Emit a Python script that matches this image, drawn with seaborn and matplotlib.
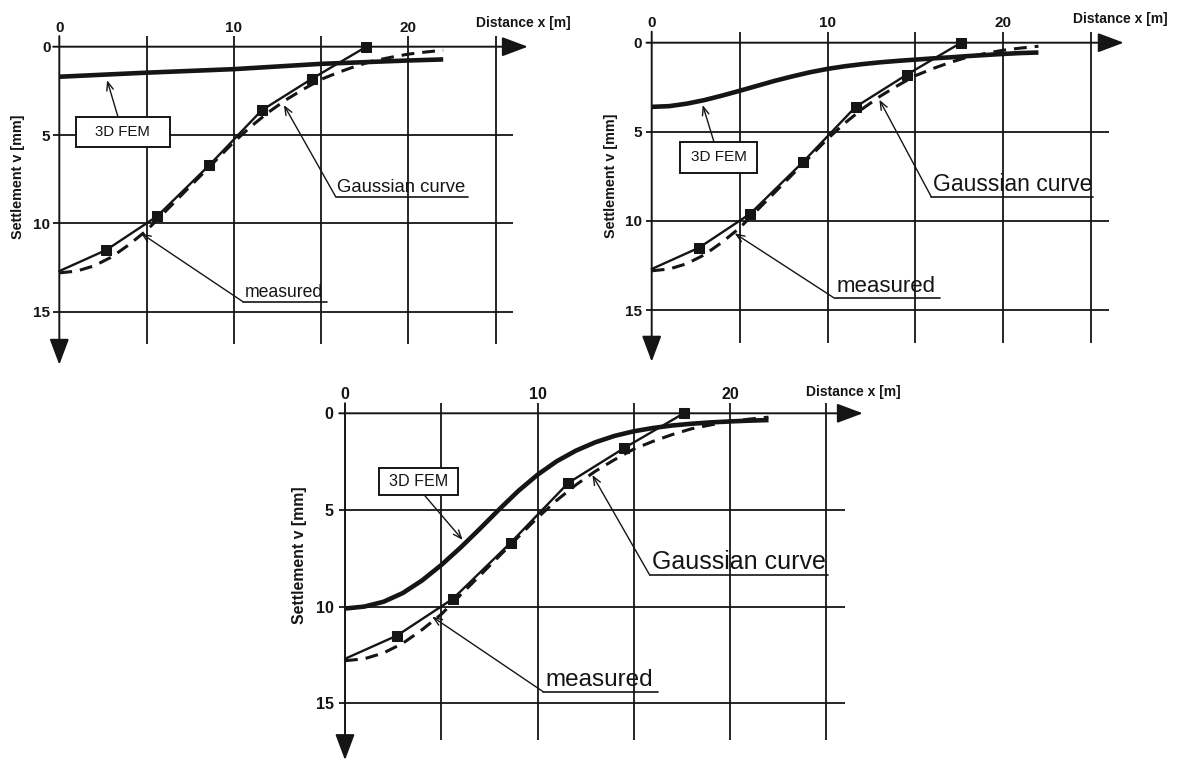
import matplotlib
matplotlib.use("Agg")
import matplotlib.pyplot as plt
from matplotlib.patches import Rectangle
import seaborn as sns

# ---- data -------------------------------------------------------------
# measured settlement trough (same survey in every panel)
measured_x = [0.0, 2.7, 5.6, 8.6, 11.6, 14.5, 17.6]
measured_v = [12.7, 11.5, 9.6, 6.7, 3.6, 1.8, 0.0]

# fitted Gaussian settlement trough
gauss_x = [0, 1, 2, 3, 4, 5, 6, 7, 8, 9, 10, 11, 12, 13, 14, 15, 16, 17, 18, 19, 20, 21, 22]
gauss_v = [12.8, 12.7, 12.4, 11.9, 11.2, 10.4, 9.4, 8.4, 7.4, 6.4, 5.4, 4.5, 3.7,
           3.0, 2.4, 1.85, 1.45, 1.1, 0.8, 0.6, 0.42, 0.3, 0.2]

# 3D FEM results, one per panel
fem1_x = [0, 5, 10, 15, 20, 22]
fem1_v = [1.70, 1.47, 1.27, 0.97, 0.78, 0.72]

fem2_x = [0, 1, 2, 3, 4, 5, 6, 7, 8, 9, 10, 11, 12, 13, 14, 15, 16, 17, 18, 19, 20, 21, 22]
fem2_v = [3.6, 3.56, 3.42, 3.22, 2.97, 2.7, 2.42, 2.14, 1.89, 1.66, 1.47, 1.32, 1.2,
          1.1, 1.02, 0.95, 0.88, 0.82, 0.75, 0.69, 0.63, 0.58, 0.55]

fem3_x = [0, 1, 2, 3, 4, 5, 6, 7, 8, 9, 10, 11, 12, 13, 14, 15, 16, 17, 18, 19, 20, 21, 22]
fem3_v = [10.1, 10.0, 9.75, 9.3, 8.65, 7.85, 6.95, 5.98, 4.98, 4.02, 3.18, 2.48, 1.93,
          1.5, 1.17, 0.93, 0.76, 0.63, 0.54, 0.47, 0.42, 0.38, 0.35]

x_ticks = [0, 10, 20]
v_ticks = [0, 5, 10, 15]
grid_x = [5, 10, 15, 20, 25]
grid_v = [5, 10, 15]

x_label = "Distance x [m]"
v_label = "Settlement v [mm]"
fem_label = "3D FEM"
gauss_label = "Gaussian curve"
meas_label = "measured"

# ---- style ------------------------------------------------------------
sns.set_theme(style="white")
plt.rcParams["font.family"] = ["Liberation Sans", "DejaVu Sans"]
INK = "#151515"
plt.rcParams["text.color"] = INK

W, H = 1179, 764
fig = plt.figure(figsize=(W / 100, H / 100), dpi=100)
fig.patch.set_facecolor("white")


def make_axes(x0, sx, y0, sy, xlim, vlim):
    """Place an axes so that data (0,0) lands at pixel (x0, y0)."""
    left = x0 + xlim[0] * sx
    right = x0 + xlim[1] * sx
    top = y0 + vlim[0] * sy
    bottom = y0 + vlim[1] * sy
    ax = fig.add_axes([left / W, 1 - bottom / H, (right - left) / W, (bottom - top) / H])
    ax.set_xlim(*xlim)
    ax.set_ylim(vlim[1], vlim[0])
    ax.patch.set_alpha(0)
    for s in ax.spines.values():
        s.set_visible(False)
    return ax


def frame(ax, xlim, arrow_x, arrow_v, ypad, fs_ticks):
    for gx in grid_x:
        ax.axvline(gx, color=INK, lw=1.3, zorder=1)
    for gv in grid_v:
        ax.axhline(gv, color=INK, lw=1.3, zorder=1)
    ax.grid(False)
    head = "-|>,head_length=0.8,head_width=0.3"
    ax.annotate("", xy=(arrow_x, 0), xytext=(xlim[0], 0), annotation_clip=False,
                arrowprops=dict(arrowstyle=head, lw=1.4, color=INK, mutation_scale=20,
                                shrinkA=0, shrinkB=0), zorder=2)
    ax.annotate("", xy=(0, arrow_v), xytext=(0, ax.get_ylim()[1]), annotation_clip=False,
                arrowprops=dict(arrowstyle=head, lw=1.4, color=INK, mutation_scale=20,
                                shrinkA=0, shrinkB=0), zorder=2)
    ax.xaxis.tick_top()
    ax.set_xticks(x_ticks)
    ax.set_yticks(v_ticks)
    ax.set_xticklabels([str(t) for t in x_ticks])
    ax.set_yticklabels([str(t) for t in v_ticks])
    ax.tick_params(axis="x", length=0, pad=1, labelsize=fs_ticks, colors=INK)
    ax.tick_params(axis="y", length=0, pad=ypad, labelsize=fs_ticks, colors=INK)
    for lab in ax.get_xticklabels() + ax.get_yticklabels():
        lab.set_fontweight("bold")
    ax.set_xlabel("")
    ax.set_ylabel("")


def curves(ax, fem_x, fem_v):
    sns.lineplot(x=gauss_x, y=gauss_v, ax=ax, color=INK, lw=2.2, linestyle=(0, (4.2, 2.6)),
                 estimator=None, sort=False, legend=False, zorder=3)
    sns.lineplot(x=measured_x, y=measured_v, ax=ax, color=INK, lw=1.7, marker="s",
                 markersize=7.5, markeredgecolor=INK, markerfacecolor=INK,
                 markevery=list(range(1, len(measured_x))),
                 estimator=None, sort=False, legend=False, zorder=4)
    sns.lineplot(x=fem_x, y=fem_v, ax=ax, color=INK, lw=3.3, solid_capstyle="butt",
                 solid_joinstyle="round", estimator=None, sort=False, legend=False, zorder=3)


def axis_titles(ax, dist_pos, settle_pos, fs_dist, fs_settle):
    ax.text(dist_pos[0], dist_pos[1], x_label, ha="left", va="center",
            fontsize=fs_dist, fontweight="bold", clip_on=False)
    ax.text(settle_pos[0], settle_pos[1], v_label, ha="center", va="center",
            rotation=90, fontsize=fs_settle, fontweight="bold", clip_on=False)


def fem_box(ax, center, w, h, start, tip, fs):
    ax.add_patch(Rectangle((center[0] - w / 2, center[1] - h / 2), w, h,
                           facecolor="white", edgecolor=INK, lw=1.4, zorder=5,
                           clip_on=False))
    ax.text(center[0], center[1], fem_label, ha="center", va="center",
            fontsize=fs, zorder=6)
    ax.annotate("", xy=tip, xytext=start, annotation_clip=False,
                arrowprops=dict(arrowstyle="->,head_length=0.5,head_width=0.2",
                                lw=1.0, color=INK, shrinkA=0, shrinkB=0), zorder=5)


def leader_label(ax, text, tip, corner, end, fs):
    ax.annotate("", xy=tip, xytext=corner, annotation_clip=False,
                arrowprops=dict(arrowstyle="->,head_length=0.5,head_width=0.2",
                                lw=1.0, color=INK, shrinkA=0, shrinkB=0), zorder=5)
    ax.plot([corner[0], end[0]], [corner[1], end[1]], color=INK, lw=1.2,
            clip_on=False, zorder=5)
    ax.text(corner[0] + 0.1, corner[1] - 0.05, text, ha="left", va="bottom",
            fontsize=fs, zorder=6, clip_on=False)


# ---- panel 1 ---------------------------------------------------------
xl1, vl1 = (-0.35, 26.0), (-0.6, 16.8)
ax1 = make_axes(59.3, 17.45, 46.7, 17.67, xl1, vl1)
frame(ax1, xl1, 26.85, 18.0, 2, 11)
curves(ax1, fem1_x, fem1_v)
axis_titles(ax1, (23.9, -1.32), (-2.37, 7.35), 10, 10.4)
fem_box(ax1, (3.64, 4.81), 5.36, 1.7, (3.36, 3.96), (2.74, 1.9), 10.8)
leader_label(ax1, gauss_label, (12.87, 3.3), (15.84, 8.49), (23.42, 8.49), 13.3)
leader_label(ax1, meas_label, (4.68, 10.56), (10.52, 14.43), (15.33, 14.43), 12.7)

# ---- panel 2 ---------------------------------------------------------
xl2, vl2 = (-0.3, 26.0), (-0.62, 16.85)
ax2 = make_axes(651.7, 17.58, 42.7, 17.82, xl2, vl2)
frame(ax2, xl2, 26.85, 17.9, 3.5, 11)
curves(ax2, fem2_x, fem2_v)
axis_titles(ax2, (23.95, -1.33), (-2.33, 7.45), 10, 10.4)
fem_box(ax2, (3.81, 6.44), 4.38, 1.77, (3.54, 5.56), (2.9, 3.5), 11)
leader_label(ax2, gauss_label, (12.95, 3.2), (15.9, 8.64), (25.1, 8.64), 16.5)
leader_label(ax2, meas_label, (4.72, 10.7), (10.4, 14.34), (16.4, 14.34), 16)

# ---- panel 3 ---------------------------------------------------------
xl3, vl3 = (-0.3, 26.0), (-0.52, 16.9)
ax3 = make_axes(345.0, 19.25, 413.3, 19.33, xl3, vl3)
frame(ax3, xl3, 26.9, 17.94, 4, 11.5)
curves(ax3, fem3_x, fem3_v)
axis_titles(ax3, (23.94, -1.12), (-2.35, 7.33), 10, 11.4)
fem_box(ax3, (3.82, 3.54), 4.1, 1.38, (4.12, 4.23), (6.11, 6.55), 11.6)
leader_label(ax3, gauss_label, (12.85, 3.19), (15.83, 8.37), (25.07, 8.37), 18)
leader_label(ax3, meas_label, (4.53, 10.52), (10.29, 14.4), (16.24, 14.4), 17.5)

fig.savefig("out.png", dpi=100, facecolor="white")
